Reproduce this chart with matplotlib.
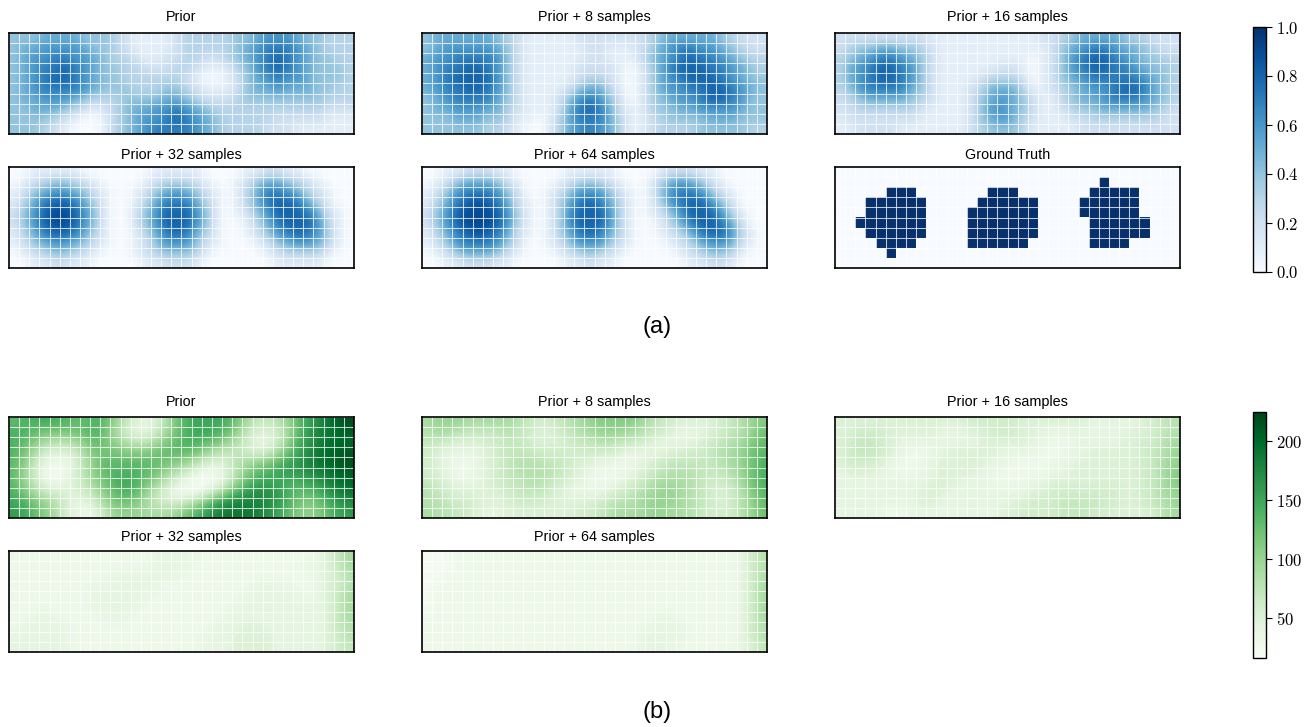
import numpy as np
import matplotlib.pyplot as plt

plt.rcParams['font.family'] = ['Liberation Sans', 'DejaVu Sans']
plt.rcParams['mathtext.fontset'] = 'cm'

titles = ['Prior', 'Prior + 8 samples', 'Prior + 16 samples',
          'Prior + 32 samples', 'Prior + 64 samples', 'Ground Truth']

# (a) occupancy probability, in tenths, 10 rows x 34 cells
occ_prior = [
    "4 4 4 5 5 5 5 4 4 4 3 2 1 1 1 1 2 3 3 3 3 3 4 4 5 6 6 6 5 4 4 3 3 3",
    "4 5 5 6 6 6 6 5 4 4 3 2 1 1 1 1 2 3 3 3 3 3 4 5 6 7 7 7 6 5 4 3 3 3",
    "4 5 6 6 7 7 6 6 5 4 3 3 2 1 1 2 2 3 3 2 2 3 4 5 6 7 8 7 6 5 4 4 3 3",
    "4 5 6 7 7 8 7 6 5 4 4 3 3 2 2 2 3 3 2 1 1 1 3 4 6 7 8 7 6 5 4 4 4 3",
    "4 5 6 7 8 8 7 6 5 4 4 3 3 3 3 3 3 2 1 0 0 1 2 4 5 6 7 6 6 5 4 4 4 3",
    "4 5 6 7 7 7 7 6 5 4 4 4 3 3 3 4 4 3 2 1 1 1 2 4 5 5 6 5 5 5 4 4 3 3",
    "4 5 5 6 6 6 5 4 3 3 3 4 4 4 4 5 5 4 3 2 2 2 3 4 4 4 4 4 4 4 4 3 3 3",
    "4 4 5 5 5 4 3 2 1 2 3 4 5 5 6 6 7 6 5 4 3 3 3 3 3 3 3 3 3 3 3 2 2 2",
    "4 4 4 4 3 2 1 0 0 1 3 4 5 6 6 7 8 7 6 5 4 3 3 3 3 3 2 2 2 2 2 1 1 1",
    "4 4 4 3 2 1 0 0 0 1 3 4 5 6 7 7 7 7 6 5 4 3 3 3 3 2 2 2 1 1 1 1 1 1",
]
occ_8 = [
    "4 5 5 5 5 5 5 4 3 2 1 1 1 1 1 2 2 2 2 2 2 2 3 4 5 5 5 5 5 4 3 2 2 2",
    "4 5 6 6 6 6 6 5 4 2 1 1 1 1 1 1 2 2 1 1 1 2 3 5 6 7 7 6 6 5 4 3 2 2",
    "5 6 6 7 7 7 7 6 4 2 1 1 1 1 1 1 2 2 1 1 1 2 4 5 6 7 8 7 7 6 5 4 3 3",
    "5 6 7 7 8 8 7 6 4 2 1 1 1 1 1 2 2 2 2 1 0 1 3 5 7 8 8 8 7 7 6 5 4 3",
    "5 6 7 8 8 8 8 6 4 2 1 1 1 1 1 2 3 3 2 1 0 1 3 5 6 7 8 8 8 7 6 5 4 4",
    "5 6 7 7 8 8 7 6 4 2 1 1 1 1 2 4 5 5 3 1 0 1 3 5 6 6 7 7 8 8 7 6 5 4",
    "4 5 6 7 7 7 7 5 4 2 1 1 1 2 4 6 7 6 4 2 0 1 3 4 5 6 6 7 8 8 7 6 4 4",
    "4 5 5 6 6 6 5 5 3 2 1 1 1 2 5 7 8 7 5 2 1 1 3 4 4 5 5 6 6 6 6 5 4 4",
    "4 4 4 5 5 5 4 4 3 1 1 0 1 3 5 7 7 7 5 3 1 1 2 3 4 4 4 4 5 5 5 4 4 4",
    "4 4 4 4 4 4 3 3 2 1 0 0 1 3 5 6 7 6 5 3 1 1 2 3 3 3 3 4 4 4 4 4 3 3",
]
occ_16 = [
    "2 2 2 2 2 2 2 2 2 1 1 1 1 1 1 1 1 1 1 1 2 2 3 4 5 5 5 5 4 3 3 2 2 2",
    "2 3 4 4 5 5 4 4 3 2 1 1 1 1 1 1 1 1 1 1 1 2 4 5 6 7 7 6 5 5 4 3 2 2",
    "3 4 5 6 7 7 6 5 4 2 1 1 1 1 1 1 1 1 1 0 1 2 4 6 7 8 8 7 6 5 4 4 3 3",
    "3 5 6 7 8 8 7 6 4 2 1 1 1 1 1 1 2 2 1 0 1 2 4 6 7 8 8 7 7 6 5 4 4 3",
    "3 5 6 7 8 8 7 6 4 2 1 1 1 1 2 3 3 3 2 0 1 2 4 5 6 7 7 7 7 7 6 5 4 3",
    "3 4 6 7 7 7 7 5 4 2 1 1 1 2 3 5 5 5 3 1 1 2 3 4 5 6 6 7 8 8 7 5 4 3",
    "2 3 4 5 5 5 5 4 3 2 1 1 1 2 4 5 6 5 4 2 1 1 3 4 5 5 6 7 7 7 6 5 4 3",
    "2 2 3 3 3 3 3 3 2 1 1 1 1 2 4 6 6 5 4 2 1 1 2 3 4 4 5 5 5 5 5 4 3 2",
    "1 2 2 2 2 2 2 2 1 1 1 1 1 2 4 5 6 5 3 2 1 1 1 2 2 3 3 3 3 3 3 3 2 2",
    "1 1 2 2 2 2 1 1 1 1 1 1 1 2 3 4 4 4 3 1 1 1 1 1 2 2 2 2 2 2 2 2 2 2",
]
occ_32 = [
    "0 0 1 1 1 1 1 0 0 0 0 0 0 0 1 1 1 1 1 0 0 0 0 1 1 2 2 1 1 0 0 0 0 0",
    "0 1 2 3 4 4 3 2 1 0 0 0 0 1 2 3 3 3 2 1 0 0 1 2 4 5 5 4 3 2 1 0 0 0",
    "1 2 4 5 6 6 5 4 2 1 0 0 1 2 4 5 6 5 4 2 1 0 1 3 5 7 7 6 5 3 2 1 0 0",
    "1 3 5 7 8 8 7 5 3 1 0 0 1 3 5 7 7 7 5 3 1 0 1 3 5 7 8 8 7 5 3 1 0 0",
    "2 4 6 8 9 9 8 6 4 1 0 0 2 4 6 8 8 8 6 4 1 0 1 2 4 6 8 8 8 7 5 2 1 0",
    "2 4 6 8 9 9 8 6 4 1 0 0 2 4 6 8 8 8 6 4 1 0 0 1 3 5 7 8 8 8 6 3 1 0",
    "1 3 5 7 8 8 7 5 3 1 0 0 1 3 5 7 8 7 5 3 1 0 0 1 2 4 6 7 8 7 6 3 1 0",
    "1 2 4 5 6 6 5 4 2 1 0 0 1 2 4 6 6 6 4 2 1 0 0 0 1 2 4 5 6 6 5 3 1 0",
    "0 1 2 3 4 4 3 2 1 0 0 0 1 2 3 4 4 4 3 1 0 0 0 0 0 1 2 3 3 3 3 1 0 0",
    "0 0 1 1 2 2 1 1 0 0 0 0 0 1 1 2 2 2 1 0 0 0 0 0 0 0 1 1 1 1 1 0 0 0",
]
occ_64 = [
    "0 0 1 1 2 2 2 1 1 0 0 0 0 0 1 1 1 1 1 0 0 0 0 1 2 2 2 1 1 0 0 0 0 0",
    "0 1 2 4 5 5 5 4 2 1 0 0 0 1 2 3 4 3 2 1 0 0 1 3 5 6 5 4 2 1 0 0 0 0",
    "1 2 4 6 7 7 7 6 4 2 0 0 1 2 4 6 6 6 4 2 1 0 1 4 6 7 7 6 4 2 1 0 0 0",
    "1 3 5 7 8 9 8 7 5 2 1 0 1 3 5 7 8 7 5 3 1 0 1 3 6 7 8 8 6 4 2 0 0 0",
    "2 4 6 8 9 9 9 8 6 3 1 0 1 3 6 8 8 8 6 3 1 0 1 2 4 6 8 8 8 6 3 1 0 0",
    "2 4 6 8 9 9 9 8 6 3 1 0 1 3 6 8 8 8 6 3 1 0 0 1 3 5 7 8 8 7 5 2 0 0",
    "1 3 5 7 8 9 8 7 5 2 1 0 1 3 5 7 8 7 5 3 1 0 0 1 2 3 5 7 8 8 6 3 1 0",
    "1 2 4 6 7 7 7 6 4 2 0 0 1 2 4 6 6 6 4 2 1 0 0 0 1 2 3 5 6 6 5 2 1 0",
    "0 1 2 4 5 5 5 4 2 1 0 0 0 1 2 3 4 3 2 1 0 0 0 0 0 1 2 3 4 4 3 1 0 0",
    "0 0 1 1 2 2 2 1 1 0 0 0 0 0 1 1 2 1 1 0 0 0 0 0 0 0 1 1 2 2 1 0 0 0",
]
ground_truth = [
    "0000000000000000000000000000000000",
    "0000000000000000000000000010000000",
    "0000011100000001110000000111110000",
    "0001111110000011111100001111110000",
    "0001111110000111111100001111110000",
    "0011111110000111111100000111111000",
    "0001111110000111111100000111111000",
    "0000111100000111111000000111100000",
    "0000010000000000000000000000000000",
    "0000000000000000000000000000000000",
]

# (b) uncertainty, in tens
unc_prior = [
    "13 14 14 15 14 14 13 13 14 13 10 7 5 4 5 8 12 14 15 15 15 14 12 9 7 7 8 10 13 15 17 19 21 22",
    "14 14 13 12 12 12 12 13 14 12 9 6 4 4 6 9 12 14 15 15 14 13 10 7 5 5 6 9 13 16 18 19 20 21",
    "14 13 11 9 8 8 9 11 13 12 10 8 7 7 9 11 13 14 14 13 12 10 8 6 4 4 6 10 14 16 18 19 20 20",
    "14 12 9 6 5 5 6 9 12 12 12 11 11 11 12 13 13 13 12 10 8 7 7 6 5 6 9 12 15 17 19 20 21 21",
    "13 11 7 4 3 3 5 8 11 13 13 13 13 13 13 12 11 10 8 6 5 6 8 9 10 11 13 15 16 18 19 20 21 22",
    "13 10 6 3 2 3 5 8 11 13 14 14 14 13 12 10 8 6 4 3 3 5 8 11 13 14 15 16 16 17 18 19 20 21",
    "13 10 7 4 3 4 5 7 10 12 14 15 14 12 10 7 5 3 2 2 3 6 10 13 15 15 15 14 14 15 16 18 19 20",
    "14 12 9 7 6 5 5 6 8 11 13 14 13 10 7 5 3 3 3 5 8 11 14 16 17 17 16 14 13 13 14 16 18 19",
    "15 14 12 10 8 6 4 4 6 9 12 12 11 9 7 6 6 7 9 12 15 17 18 18 18 17 16 14 12 11 12 14 16 17",
    "16 15 13 11 9 6 4 3 4 7 10 10 10 9 9 9 10 12 14 16 18 19 19 19 18 17 15 13 11 10 11 13 15 16",
]
unc_8 = [
    "9 10 10 10 9 9 9 9 9 8 7 6 6 7 8 9 10 11 11 11 11 10 8 7 6 5 5 5 5 6 7 8 10 11",
    "8 9 9 8 7 7 7 7 8 7 6 5 5 6 7 8 9 10 10 10 9 8 7 6 5 4 4 4 5 6 7 8 10 12",
    "7 7 6 5 5 5 6 6 7 7 6 5 5 5 6 7 7 8 8 7 7 6 5 4 4 4 4 5 6 7 8 9 11 13",
    "6 5 4 4 4 4 5 6 7 7 7 6 6 6 6 6 6 6 6 5 4 4 4 4 5 5 6 6 7 8 9 10 12 13",
    "6 5 4 3 3 4 5 6 7 8 8 8 7 7 6 5 5 4 4 3 3 4 5 6 7 7 7 7 7 8 9 10 12 14",
    "6 5 4 3 3 4 5 6 7 8 8 8 8 7 6 5 4 3 3 3 4 5 6 7 8 8 8 7 7 7 8 10 12 14",
    "7 6 5 4 4 4 5 6 7 7 8 8 7 6 5 4 3 3 3 4 5 6 8 9 9 9 8 7 6 6 7 9 12 14",
    "8 7 6 5 5 5 5 5 6 7 7 7 6 5 4 4 4 4 5 6 7 8 9 10 10 9 8 7 6 5 6 8 11 13",
    "8 8 7 6 6 5 5 5 5 6 6 6 5 5 5 5 5 6 7 8 8 9 10 10 10 9 8 7 6 5 6 8 10 13",
    "9 8 8 7 6 5 4 4 5 5 5 5 5 5 5 6 6 7 8 9 9 9 10 10 9 9 8 7 6 6 6 8 10 12",
]
unc_16 = [
    "5 5 5 5 5 5 5 5 5 5 5 5 5 6 6 6 6 6 5 5 5 5 5 5 5 4 4 4 4 4 5 6 7 8",
    "5 5 6 6 6 5 5 5 5 5 4 4 4 5 5 6 6 6 5 5 4 4 4 4 4 4 4 4 4 5 5 6 7 8",
    "5 6 7 7 6 5 4 4 4 4 4 4 4 4 5 5 5 5 5 4 4 3 3 4 4 4 4 4 5 5 6 6 8 9",
    "5 6 7 7 6 5 4 3 3 4 4 5 5 5 5 5 4 4 4 4 3 3 3 4 4 5 5 5 5 5 6 7 8 10",
    "5 6 6 6 5 4 3 3 3 4 5 5 5 5 5 4 4 3 3 3 3 3 4 4 5 5 5 5 5 5 6 7 9 10",
    "4 5 5 5 4 4 3 3 4 4 5 5 5 5 4 4 3 3 3 3 3 4 4 5 5 5 5 5 5 5 6 7 9 11",
    "4 4 4 4 4 4 4 4 4 5 5 5 4 4 4 3 3 3 3 4 4 5 5 5 5 5 5 5 5 5 6 7 9 11",
    "4 4 4 4 4 4 4 4 5 5 5 4 4 4 4 4 4 4 4 5 5 6 6 6 6 6 6 6 5 5 6 7 9 10",
    "4 4 4 4 4 4 4 4 5 5 4 4 4 4 4 4 4 5 5 6 6 6 7 7 7 7 6 6 5 5 6 7 8 10",
    "4 4 4 4 4 3 3 4 4 4 4 4 4 4 4 4 5 5 6 6 6 6 7 7 7 6 6 5 5 5 5 6 8 9",
]
unc_32 = [
    "3 3 3 3 3 3 3 3 3 3 3 3 3 3 4 4 4 4 4 3 3 3 3 3 3 3 3 3 3 3 4 5 7 9",
    "3 3 3 3 3 3 3 3 3 3 3 3 3 3 4 4 4 4 3 3 3 3 3 3 3 3 3 3 3 4 4 5 7 9",
    "3 3 3 3 3 3 3 3 3 3 4 4 4 4 4 4 4 3 3 3 3 3 3 3 3 3 3 3 3 3 4 5 6 8",
    "3 3 3 3 3 3 3 3 4 4 4 4 4 4 4 3 3 3 3 3 3 3 3 3 4 4 4 4 3 3 4 5 6 8",
    "3 3 3 3 3 3 3 3 4 4 4 4 4 4 3 3 3 3 3 3 3 3 3 4 4 4 4 4 4 3 4 5 7 9",
    "3 3 3 3 3 3 3 3 4 4 4 4 4 3 3 3 3 3 3 3 3 3 4 4 4 4 4 4 4 4 4 5 7 9",
    "3 3 4 4 4 3 3 3 3 4 4 4 3 3 3 3 3 3 3 3 3 4 4 4 4 4 4 4 4 4 4 5 7 9",
    "3 4 4 4 4 4 3 3 3 3 3 3 3 3 3 3 3 3 3 3 4 4 4 5 5 4 4 4 4 4 4 5 7 8",
    "4 4 4 4 4 4 3 3 3 3 3 3 3 3 3 3 3 3 3 4 4 4 5 5 5 5 4 4 4 4 4 5 6 8",
    "4 4 4 4 4 4 3 3 3 3 3 3 3 3 3 3 3 3 3 4 4 4 5 5 5 5 4 4 4 4 4 5 6 7",
]
unc_64 = [
    "2 2 2 3 3 3 3 3 3 3 3 3 3 3 3 3 3 3 3 3 3 3 3 3 3 3 3 3 3 3 3 4 6 8",
    "2 2 2 3 3 3 3 3 3 3 3 3 3 3 3 3 3 3 3 3 3 3 3 3 3 3 3 3 3 3 3 4 6 8",
    "2 2 3 3 3 3 3 3 3 3 3 3 3 3 3 3 3 3 3 3 3 3 3 3 3 3 3 3 3 3 3 4 6 8",
    "2 3 3 3 3 3 3 3 3 3 3 3 3 3 3 3 3 3 3 3 3 3 3 3 3 3 3 3 3 3 3 4 6 9",
    "2 3 3 3 3 3 3 3 3 3 3 3 3 3 3 3 3 3 3 3 3 3 3 3 3 3 3 3 3 3 3 4 6 9",
    "2 3 3 3 3 3 3 3 3 3 3 3 3 3 3 3 3 3 3 3 3 3 3 3 3 3 3 3 3 3 3 4 6 9",
    "3 3 3 3 3 3 3 3 3 3 3 3 3 3 3 3 3 3 3 3 3 3 3 4 4 3 3 3 3 3 3 4 6 9",
    "3 3 3 3 3 3 3 3 3 3 3 3 3 3 3 3 3 3 3 3 3 3 4 4 4 4 3 3 3 3 3 4 6 8",
    "3 3 3 3 3 3 3 3 3 3 3 3 3 3 3 3 3 3 3 3 3 4 4 4 4 4 3 3 3 3 3 4 6 8",
    "3 3 3 3 3 3 3 3 3 3 3 3 3 3 3 3 3 3 3 3 3 4 4 4 4 3 3 3 3 3 3 4 5 7",
]

unc_min, unc_max = 16, 225


def to_grid(rows, scale):
    out = []
    for r in rows:
        vals = r.split() if ' ' in r else list(r)
        out.append([int(v) for v in vals])
    return np.array(out, dtype=float) * scale


W, H = 1312, 727
fig = plt.figure(figsize=(W / 100, H / 100), dpi=100)

col_left = [9, 422, 835]
row_top = [33, 167, 417, 551]
title_pad = [8.5, 6, 8, 7]
pw, ph = 345, 101


def panel(px, row, data, cmap, vmin, vmax, title, interp):
    py = row_top[row]
    ax = fig.add_axes([px / W, 1 - (py + ph) / H, pw / W, ph / H])
    im = ax.imshow(data, cmap=cmap, vmin=vmin, vmax=vmax,
                   interpolation=interp, aspect='auto')
    nr, nc = data.shape
    ax.set_xticks([])
    ax.set_yticks([])
    ax.set_xticks(np.arange(-0.5, nc, 1), minor=True)
    ax.set_yticks(np.arange(-0.5, nr, 1), minor=True)
    ax.grid(which='minor', color='white', linewidth=0.75, alpha=0.75)
    ax.tick_params(which='both', length=0)
    for s in ax.spines.values():
        s.set_linewidth(1.2)
    ax.set_title(title, fontsize=10.4, pad=title_pad[row])
    return im


occ = [occ_prior, occ_8, occ_16, occ_32, occ_64]
for k, rows in enumerate(occ):
    im_a = panel(col_left[k % 3], k // 3, to_grid(rows, 0.1),
                 'Blues', 0, 1, titles[k], 'bicubic')
panel(col_left[2], 1, to_grid(ground_truth, 1.0), 'Blues', 0, 1,
      titles[5], 'nearest')

unc = [unc_prior, unc_8, unc_16, unc_32, unc_64]
for k, rows in enumerate(unc):
    im_b = panel(col_left[k % 3], 2 + k // 3, to_grid(rows, 10),
                 'Greens', unc_min, unc_max, titles[k], 'bicubic')

# colorbars
cax_a = fig.add_axes([1253 / W, 1 - 272 / H, 13 / W, 245 / H])
cb_a = fig.colorbar(im_a, cax=cax_a)
ticks_a = [0.0, 0.2, 0.4, 0.6, 0.8, 1.0]
cb_a.set_ticks(ticks_a)
cb_a.set_ticklabels([f'${t:.1f}$' for t in ticks_a])

cax_b = fig.add_axes([1253 / W, 1 - 658 / H, 13 / W, 246 / H])
cb_b = fig.colorbar(im_b, cax=cax_b)
ticks_b = [50, 100, 150, 200]
cb_b.set_ticks(ticks_b)
cb_b.set_ticklabels([f'${t}$' for t in ticks_b])

for cb in (cb_a, cb_b):
    cb.outline.set_linewidth(1.0)
    cb.ax.tick_params(labelsize=12, length=4, width=0.8, pad=3)

fig.text(657 / W, 1 - 327 / H, '(a)', fontsize=17, ha='center', va='center')
fig.text(657 / W, 1 - 712 / H, '(b)', fontsize=17, ha='center', va='center')

fig.savefig('out.png', dpi=100)
